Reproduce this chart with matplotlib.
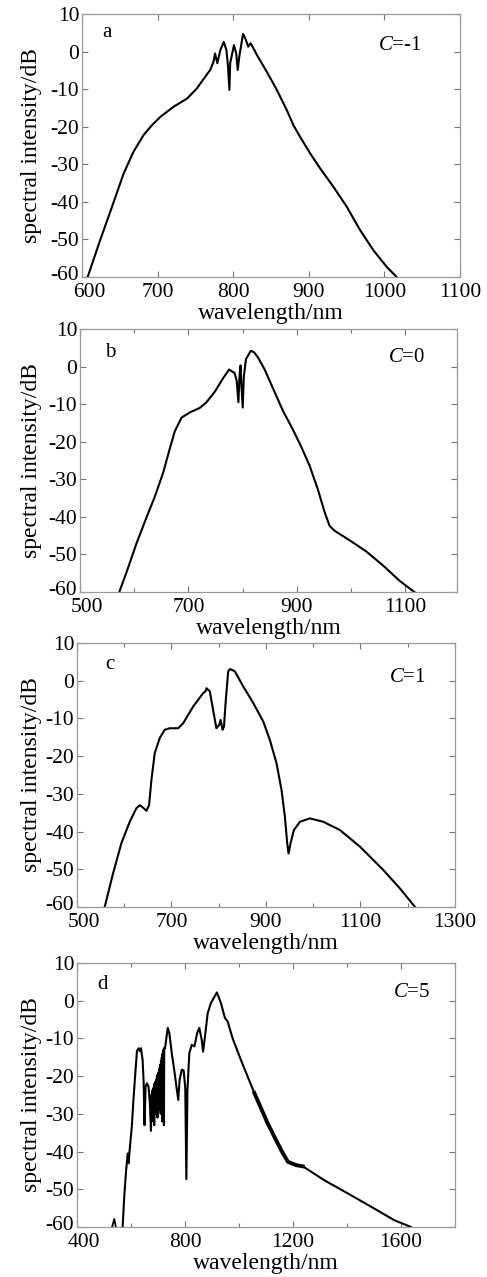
import numpy as np
import matplotlib
matplotlib.use("Agg")
import matplotlib.pyplot as plt
import matplotlib.transforms as mtransforms
from matplotlib.ticker import MultipleLocator

plt.rcParams['font.family'] = ['Liberation Serif', 'DejaVu Serif']
plt.rcParams['mathtext.fontset'] = 'custom'
plt.rcParams['mathtext.rm'] = 'Liberation Serif'
plt.rcParams['mathtext.it'] = 'Liberation Serif:italic'
plt.rcParams['axes.unicode_minus'] = False

# panel a, C=-1
wl_a = [607.5, 624, 642, 655, 668, 681.5, 692.5, 703.5, 721, 739, 752, 763, 769.6, 774, 776, 779,
        783, 787.5, 791, 793, 795, 796, 801, 804, 806, 808, 813, 816, 820, 823, 828, 831.3,
        844.5, 857.7, 870.9, 879.7, 888.5, 901.8, 915, 932.6, 950.2, 967.8, 985.5, 1003, 1016.3]
db_a = [-60, -50.2, -40, -32.5, -26.7, -22.2, -19.6, -17.4, -14.7, -12.5, -9.8, -6.7, -4.9, -2.7,
        -0.5, -3.1, 0.4, 2.6, 0.4, -3.6, -10.2, -3.1, 1.7, -0.5, -4.9, -1.4, 4.7, 3.5, 1.3, 2.2,
        0.4, -0.9, -5.4, -10.2, -15.6, -19.6, -22.7, -27.1, -31.1, -36, -41.3, -47.5, -52.9,
        -57.3, -60]

# panel b, C=0
wl_b = [572.4, 585.9, 604.3, 622.7, 638, 653.4, 665.6, 674.8, 687.1, 702.5, 720.9, 733.1, 748.5,
        763.8, 774.8, 785, 789, 792, 794, 796, 797, 800, 802, 806, 815, 821, 828.2, 840.5, 855.8,
        874.2, 892.6, 908, 923.3, 938.7, 950.9, 960.1, 969.3, 984.7, 1009.2, 1027.6, 1058.3,
        1089, 1122.7]
db_b = [-60, -54.7, -47, -40.1, -34.6, -28.2, -21.8, -17.2, -13.6, -12.2, -11, -9.5, -6.7, -3.1,
        -0.8, -1.7, -3.9, -9.5, -2.6, 0.3, -3.5, -10.9, -2.6, 2, 4.2, 3.8, 2.4, -0.8, -5.8,
        -11.8, -16.8, -21.4, -26.4, -32.8, -38.7, -42.4, -43.7, -45.1, -47.4, -49.2, -52.9,
        -57, -60.7]

# panel c, C=1
wl_c = [558.6, 576.3, 593.9, 611.6, 625.7, 632.8, 641.2, 646.9, 652.5, 657.5, 664.5, 675.1, 685.7,
        696.3, 714, 724.6, 746, 767, 772, 774, 781, 788, 795, 801, 804, 808, 811, 815, 820, 824,
        834, 851.7, 872.9, 894.1, 908.2, 922.3, 932.9, 940, 944.9, 947.7, 952, 959, 971.8,
        992.9, 1021.2, 1056.5, 1098.9, 1148.3, 1183.6, 1215.4]
db_c = [-60, -51.1, -43.1, -37.4, -33.8, -33, -33.8, -34.5, -33, -26.3, -19.2, -15.2, -13, -12.6,
        -12.6, -11.3, -6.8, -3.3, -2.8, -2, -2.8, -7.7, -12.6, -11.7, -10.4, -13, -12.2, -5,
        2.5, 3.1, 2.5, -1.5, -5.9, -10.8, -15.7, -21.9, -29, -36.1, -43.1, -45.8, -43.1,
        -39.6, -37.4, -36.5, -37.4, -39.6, -44, -50.2, -55.1, -60]

# panel d, C=5 (small spike near 540 nm drawn separately)
wl_d0 = [530, 538, 544]
db_d0 = [-60, -57.9, -60]
wl_d = [569, 575, 582, 588, 591, 595, 603, 609, 616, 622, 628, 633, 637, 643, 647, 650, 654, 659,
        665, 670, 674,
        675, 677, 678, 680, 681, 683, 684, 686, 687, 689, 690, 692, 693, 695, 696, 698, 699, 701,
        702, 704, 705, 707, 708, 710, 711, 713, 714, 716, 717, 719, 720, 722, 723,
        726, 736, 742, 751, 760, 770, 775, 780, 788, 795, 801, 805, 809, 816, 825, 835, 845, 853,
        862, 867, 874, 884, 896, 918, 933, 948, 958, 976, 1007, 1057, 1106, 1156, 1181, 1212,
        1236, 1316, 1403, 1501, 1575, 1637]
db_d = [-60, -51.9, -44.9, -40.5, -43.1, -39.6, -33.4, -26.3, -19.2, -13.4, -12.6, -13.4, -12.6,
        -15.7, -21.9, -33, -22.8, -21.9, -22.8, -27.3, -34.5,
        -25, -32, -24, -31, -23.5, -30, -23, -33, -22, -29, -21.5, -30, -21, -28, -20, -31, -19.5,
        -27, -19, -29, -18, -26, -17, -30, -16, -25, -15, -32, -14, -27, -13, -33, -12.5,
        -12.6, -7.2, -8.6, -13.9, -18.3, -23.7, -26.3, -21, -18.3, -18.5, -23.2, -47.3, -23.7,
        -13.9, -11.7, -12.1, -8.6, -7.2, -10.4, -13.5, -9.5, -3.3, -0.6, 2.2, -0.6, -4.6, -5.5,
        -9.9, -15.7, -24.5, -32.5, -39.6, -42.7, -43.6, -43.9, -47.6, -51.1, -55.1, -58.2, -60]

yticks = [10, 0, -10, -20, -30, -40, -50, -60]

panels = [
    (wl_a, db_a, 'a', '=-1', (600, 1100), [600, 700, 800, 900, 1000, 1100], None,
     [82, 460, 14, 277], (0.053, 0.93), (0.84, 0.88)),
    (wl_b, db_b, 'b', '=0', (500, 1195), [500, 700, 900, 1100], 100,
     [80, 457, 329, 592], (0.066, 0.91), (0.867, 0.89)),
    (wl_c, db_c, 'c', '=1', (500, 1300), [500, 700, 900, 1100, 1300], 100,
     [77, 455, 643, 907], (0.074, 0.917), (0.873, 0.87)),
    (wl_d, db_d, 'd', '=5', (400, 1800), [400, 800, 1200, 1600], 200,
     [77, 455, 963, 1227], (0.053, 0.917), (0.886, 0.89)),
]

W, H = 487, 1277
fig = plt.figure(figsize=(W / 100, H / 100), dpi=100)

for wl, db, tag, ctext, xlim, xticks, minor, box, tagpos, cpos in panels:
    l, r, t, b = box
    ax = fig.add_axes([l / W, 1 - b / H, (r - l) / W, (b - t) / H])
    ax.plot(wl, db, color='black', lw=1.5)
    if tag == 'd':
        ax.plot(wl_d0, db_d0, color='black', lw=1.3)
        wl_arr = np.array(wl_d)
        band = (wl_arr >= 1040) & (wl_arr <= 1240)
        ax.plot(wl_arr[band], np.array(db_d)[band], color='black', lw=2.8)
    ax.set_xlim(*xlim)
    ax.set_ylim(-60, 10)
    ax.set_xticks(xticks)
    if minor:
        ax.xaxis.set_minor_locator(MultipleLocator(minor))
    ax.set_yticks(yticks)
    ax.tick_params(direction='in', top=True, right=True, length=4, width=0.8,
                   color='0.45', labelsize=15.5)
    ax.tick_params(axis='x', pad=4)
    ax.tick_params(axis='y', pad=2)
    ax.tick_params(which='minor', direction='in', top=True, right=True, length=3,
                   width=0.8, color='0.45')
    for s in ax.spines.values():
        s.set_color('0.6')
        s.set_linewidth(0.9)
    ax.set_xlabel('wavelength/nm', fontsize=17, labelpad=1)
    ax.set_ylabel('spectral intensity/dB', fontsize=17)
    ax.yaxis.set_label_coords((42 - l) / (r - l), 0.5)
    ax.text(tagpos[0], tagpos[1], tag, transform=ax.transAxes, fontsize=15,
            ha='left', va='center')
    ax.text(cpos[0], cpos[1], r'$\mathit{C}$' + ctext, transform=ax.transAxes,
            fontsize=15, ha='center', va='center')

    # corner labels sit a little apart in the original, as here
    first_x = ax.get_xticklabels()[0]
    first_x.set_transform(first_x.get_transform() +
                          mtransforms.ScaledTranslation(5 / 72, 0, fig.dpi_scale_trans))
    last_y = ax.get_yticklabels()[-1]
    last_y.set_transform(last_y.get_transform() +
                         mtransforms.ScaledTranslation(0, 3 / 72, fig.dpi_scale_trans))

fig.savefig('out.png', dpi=100)
